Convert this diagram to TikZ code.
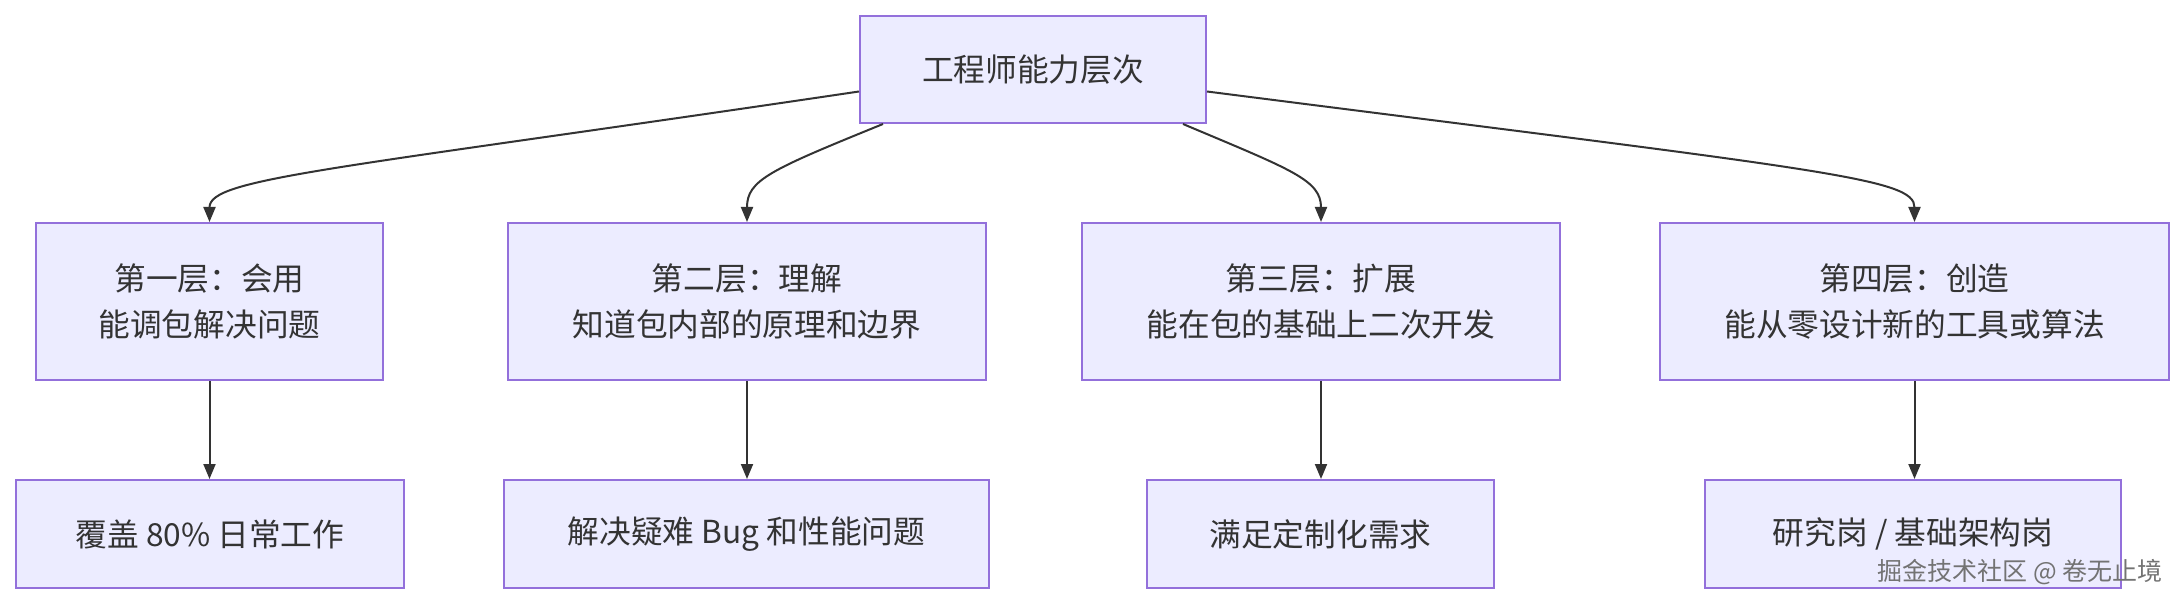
\documentclass[tikz,border=0pt]{standalone}
\usepackage{fontspec}
\setmainfont{Noto Sans CJK SC}
\usetikzlibrary{arrows.meta}
\definecolor{boxfill}{HTML}{ECECFF}
\definecolor{boxline}{HTML}{9370DB}
\definecolor{txt}{HTML}{333333}
\definecolor{edge}{HTML}{333333}
\begin{document}
\begin{tikzpicture}[x=1pt,y=-1pt,
  box/.style={draw=boxline,fill=boxfill,line width=2pt,text=txt,align=center,
    inner sep=0pt,font=\fontsize{31.7}{46}\selectfont},
  conn/.style={draw=edge,line width=2pt,-{Triangle[length=15pt,width=12pt]}}]
\useasboundingbox (0,0) rectangle (2181,604);
\node[box,minimum width=346pt,minimum height=107pt] (top) at (1033,69.5) {工程师能力层次};
\node[box,minimum width=347pt,minimum height=157pt] (b1) at (209.5,301.5) {第一层：会用\\能调包解决问题};
\node[box,minimum width=478pt,minimum height=157pt] (b2) at (747,301.5) {第二层：理解\\知道包内部的原理和边界};
\node[box,minimum width=478pt,minimum height=157pt] (b3) at (1321,301.5) {第三层：扩展\\能在包的基础上二次开发};
\node[box,minimum width=509pt,minimum height=157pt] (b4) at (1914.5,301.5) {第四层：创造\\能从零设计新的工具或算法};
\node[box,minimum width=388pt,minimum height=108pt] (c1) at (210,534) {覆盖 80\% 日常工作};
\node[box,minimum width=485pt,minimum height=108pt] (c2) at (746.5,534) {解决疑难 Bug 和性能问题};
\node[box,minimum width=347pt,minimum height=108pt] (c3) at (1320.5,534) {满足定制化需求};
\node[box,minimum width=416pt,minimum height=108pt] (c4) at (1913,534) {研究岗 / 基础架构岗};
\draw[conn] ([yshift=-22pt]top.west) .. controls (330,170) and (209.5,178) .. (b1.north);
\draw[conn] ([xshift=24pt]top.south west) .. controls (770,170) and (747,180) .. (b2.north);
\draw[conn] ([xshift=-24pt]top.south east) .. controls (1292,170) and (1321,180) .. (b3.north);
\draw[conn] ([yshift=-22pt]top.east) .. controls (1830,171) and (1914.5,178) .. (b4.north);
\draw[conn] (b1.south) -- (b1.south |- c1.north);
\draw[conn] (b2.south) -- (b2.south |- c2.north);
\draw[conn] (b3.south) -- (b3.south |- c3.north);
\draw[conn] (b4.south) -- (b4.south |- c4.north);
\node[text=black!55,font=\fontsize{25}{30}\selectfont,anchor=east,inner sep=0pt] (wm) at (2163,572) {掘金技术社区 @ 卷无止境};
\end{tikzpicture}
\end{document}
